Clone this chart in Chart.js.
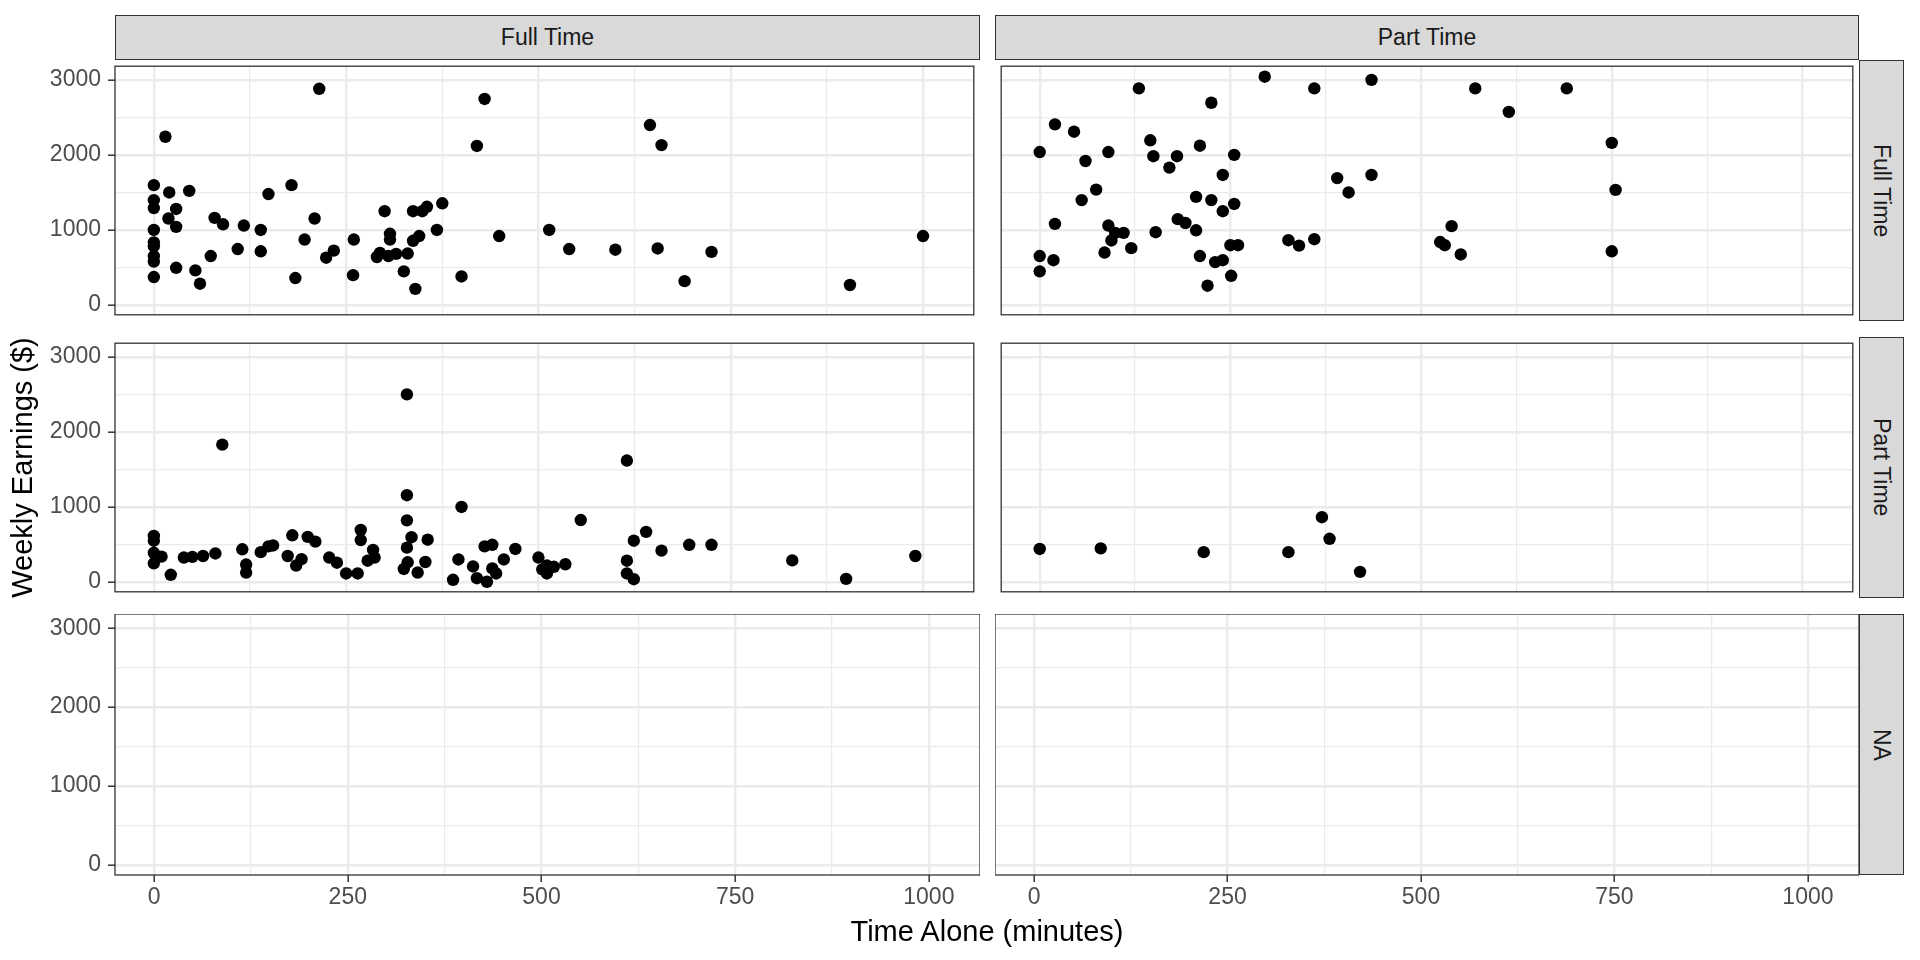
<!DOCTYPE html>
<html lang="en">
<head>
<meta charset="UTF-8">
<title>Weekly Earnings vs Time Alone</title>
<script src="https://cdn.jsdelivr.net/npm/chart.js"></script>
<style>
  body { margin: 0; background: #fff; font-family: "Liberation Sans", Arial, sans-serif; }
  #fig { position: relative; width: 1920px; height: 960px; overflow: hidden; }
  #fig canvas { position: absolute; }
  .strip { position: absolute; box-sizing: border-box; background: #d9d9d9; border: 1.3px solid #333;
           color: #1a1a1a; font-size: 23px; display: flex; align-items: center; justify-content: center; }
  .strip.side { writing-mode: vertical-rl; }
  #xtitle { position: absolute; left: 115px; width: 1744px; top: 912px; line-height: 38px;
            text-align: center; font-size: 29px; color: #000; }
</style>
</head>
<body>
<div id="fig">
  <div class="strip" style="left:115px;top:15px;width:865px;height:45px;">Full Time</div>
  <div class="strip" style="left:995px;top:15px;width:864px;height:45px;">Part Time</div>
  <div class="strip side" style="left:1859px;top:60px;width:45px;height:261px;">Full Time</div>
  <div class="strip side" style="left:1859px;top:337px;width:45px;height:261px;">Part Time</div>
  <div class="strip side" style="left:1859px;top:614px;width:45px;height:261px;">NA</div>

  <canvas id="p11" width="980" height="261" style="left:0;top:60px;"></canvas>
  <canvas id="p12" width="864" height="261" style="left:995px;top:60px;"></canvas>
  <canvas id="p21" width="980" height="261" style="left:0;top:337px;"></canvas>
  <canvas id="p22" width="864" height="261" style="left:995px;top:337px;"></canvas>
  <canvas id="p31" width="980" height="306" style="left:0;top:614px;"></canvas>
  <canvas id="p32" width="864" height="306" style="left:995px;top:614px;"></canvas>

  <div id="xtitle">Time Alone (minutes)</div>
</div>

<script>
// facet labels
const colLabels = ['Full Time', 'Part Time'];
const rowLabels = ['Full Time', 'Part Time', 'NA'];

// axis ticks
const xMajor = [0, 250, 500, 750, 1000];
const xMinor = [125, 375, 625, 875];
const yMajor = [0, 1000, 2000, 3000];
const yMinor = [500, 1500, 2500];
const xRange = [-50.5, 1066];
const yRange = [-130, 3182];

// column "Full Time", row "Full Time"
const ffMinutes  = [0, 0, 0, 0, 0, 0, 0, 0, 0, 15, 20, 19, 29, 29, 29, 46, 54, 60, 74, 79, 90, 109, 117, 139, 139,
  149, 179, 184, 196, 209, 215, 224, 234, 259, 260, 290, 294, 305, 315, 300, 307, 307, 325, 330, 340, 337, 345,
  337, 349, 355, 375, 368, 400, 420, 430, 449, 514, 540, 600, 645, 660, 655, 690, 725, 905, 1000];
const ffEarnings = [1597, 1398, 1292, 1000, 835, 784, 653, 580, 373, 2242, 1500, 1153, 1280, 1042, 496, 1521, 462,
  284, 653, 1161, 1076, 746, 1059, 1000, 716, 1479, 1597, 360, 873, 1153, 2881, 631, 725, 398, 873, 640, 695, 653,
  682, 1250, 949, 873, 449, 686, 216, 856, 919, 1250, 1250, 1309, 1356, 1000, 381, 2119, 2746, 919, 1000, 746, 737,
  2398, 2131, 754, 318, 708, 267, 919];

// column "Part Time", row "Full Time"
const pfMinutes  = [0, 0, 0, 18, 20, 20, 45, 60, 55, 74, 90, 90, 85, 94, 99, 110, 120, 130, 145, 149, 152, 170, 180,
  181, 191, 205, 205, 210, 210, 225, 225, 230, 240, 220, 240, 240, 255, 255, 250, 260, 251, 295, 326, 340, 360, 360,
  390, 405, 435, 435, 571, 691, 615, 750, 755, 540, 525, 531, 552, 750];
const pfEarnings = [2038, 653, 449, 597, 2407, 1081, 2309, 1919, 1398, 1538, 2038, 1059, 699, 860, 962, 962, 758,
  2886, 2195, 1983, 970, 1831, 1983, 1144, 1093, 1441, 996, 2123, 653, 2695, 1398, 572, 597, 258, 1733, 1250, 2000,
  1347, 797, 797, 390, 3042, 864, 792, 2886, 877, 1691, 1500, 3000, 1733, 2886, 2886, 2572, 2161, 1534, 1051, 839,
  797, 674, 716];

// column "Full Time", row "Part Time"
const fpMinutes  = [329, 89, 329, 400, 329, 0, 0, 0, 0, 10, 22, 39, 50, 64, 80, 115, 120, 120, 139, 149, 155, 180,
  174, 185, 192, 200, 210, 228, 238, 250, 265, 269, 269, 278, 285, 287, 335, 329, 330, 325, 356, 353, 343, 396, 389,
  415, 420, 430, 440, 433, 440, 445, 455, 470, 500, 505, 511, 511, 520, 535, 555, 615, 615, 615, 624, 624, 640, 660,
  696, 725, 830, 900, 990];
const fpEarnings = [2500, 1831, 1157, 1000, 822, 614, 551, 390, 250, 339, 97, 326, 335, 347, 381, 436, 233, 127, 398,
  475, 487, 623, 347, 220, 305, 602, 538, 326, 258, 114, 114, 695, 559, 284, 428, 326, 597, 458, 263, 174, 564, 267,
  127, 301, 30, 208, 51, 475, 496, 4, 182, 114, 301, 441, 326, 169, 114, 220, 203, 237, 826, 1619, 284, 114, 38, 551,
  669, 419, 496, 496, 288, 42, 347];

// column "Part Time", row "Part Time"
const ppMinutes  = [0, 80, 215, 326, 370, 380, 420];
const ppEarnings = [441, 449, 398, 398, 864, 576, 136];

// row "NA" has no observations
const naMinutes  = [];
const naEarnings = [];

Chart.defaults.font.family = '"Liberation Sans", Arial, sans-serif';

const panelBorder = {
  id: 'panelBorder',
  afterDraw(chart) {
    const a = chart.chartArea, ctx = chart.ctx;
    ctx.save();
    ctx.strokeStyle = '#333333';
    ctx.lineWidth = 1.3;
    ctx.strokeRect(a.left, a.top, a.right - a.left, a.bottom - a.top);
    ctx.restore();
  }
};

function axis(dir, labelled, title) {
  const major = dir === 'x' ? xMajor : yMajor;
  const all = (dir === 'x' ? xMajor.concat(xMinor) : yMajor.concat(yMinor)).sort((a, b) => a - b);
  const range = dir === 'x' ? xRange : yRange;
  const isMajor = c => c.tick && major.includes(c.tick.value);
  return {
    type: 'linear',
    position: dir === 'x' ? 'bottom' : 'left',
    min: range[0],
    max: range[1],
    afterBuildTicks: s => { s.ticks = all.map(v => ({ value: v })); },
    afterFit: s => {
      if (dir === 'x') s.height = labelled ? 45 : 0;
      else s.width = labelled ? 115 : 0;
      s.paddingLeft = s.paddingRight = s.paddingTop = s.paddingBottom = 0;
    },
    border: { display: false },
    grid: {
      color: '#ebebeb',
      lineWidth: c => isMajor(c) ? 2.4 : 1.2,
      drawTicks: labelled,
      tickLength: 7,
      tickWidth: 1.5,
      tickColor: c => isMajor(c) ? '#333333' : 'rgba(0,0,0,0)'
    },
    ticks: {
      display: labelled,
      autoSkip: false,
      maxRotation: 0,
      padding: dir === 'x' ? 2 : 7,
      color: '#4d4d4d',
      font: { size: 23 },
      callback: v => major.includes(v) ? String(v) : ''
    },
    title: title
      ? { display: true, text: title, color: '#000', font: { size: 29 }, padding: { top: 7, bottom: 0 } }
      : { display: false }
  };
}

function panel(id, minutes, earnings, showX, showY, yTitle) {
  const pts = minutes.map((m, i) => ({ x: m, y: earnings[i] }));
  new Chart(document.getElementById(id), {
    type: 'scatter',
    data: {
      datasets: [{ data: pts, backgroundColor: '#000', borderWidth: 0, pointRadius: 6.2, pointHoverRadius: 6.2 }]
    },
    options: {
      responsive: false,
      animation: false,
      events: [],
      layout: { padding: 0 },
      plugins: { legend: { display: false }, tooltip: { enabled: false } },
      scales: { x: axis('x', showX), y: axis('y', showY, yTitle) }
    },
    plugins: [panelBorder]
  });
}

panel('p11', ffMinutes, ffEarnings, false, true);
panel('p12', pfMinutes, pfEarnings, false, false);
panel('p21', fpMinutes, fpEarnings, false, true, 'Weekly Earnings ($)');
panel('p22', ppMinutes, ppEarnings, false, false);
panel('p31', naMinutes, naEarnings, true, true);
panel('p32', naMinutes, naEarnings, true, false);
</script>
</body>
</html>
